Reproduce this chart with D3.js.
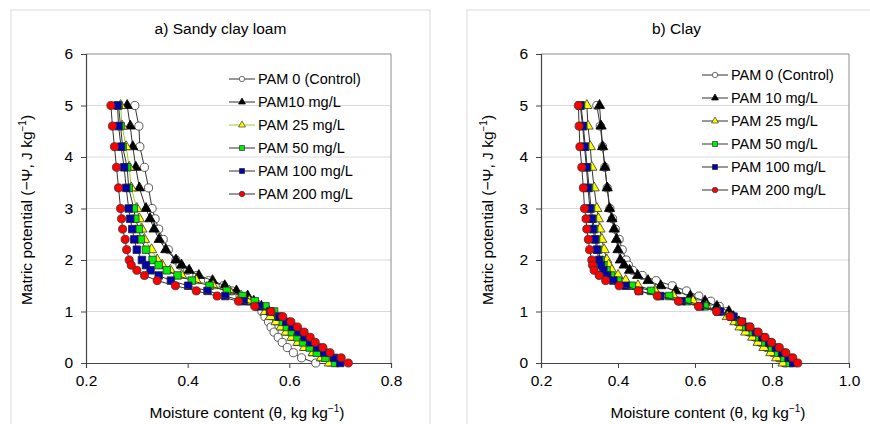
<!DOCTYPE html>
<html>
<head>
<meta charset="utf-8">
<script src="https://cdn.jsdelivr.net/npm/d3@7"></script>
<style>
  body { margin: 0; background: #fff; }
  text { font-family: "Liberation Sans", Arial, sans-serif; fill: #000; }
</style>
</head>
<body>
<svg id="chart" width="870" height="424"></svg>
<script>
// matric potential levels (-Psi, J/kg), same for every curve
const psi = [5, 4.6, 4.2, 3.8, 3.4, 3.0, 2.8, 2.6, 2.4, 2.2, 2.0, 1.9, 1.8, 1.7, 1.6, 1.5,
             1.4, 1.3, 1.2, 1.1, 1.0, 0.9, 0.8, 0.7, 0.6, 0.5, 0.4, 0.3, 0.2, 0.1, 0];

// a) sandy clay loam, moisture content (kg/kg)
const aPam0   = [0.296, 0.304, 0.306, 0.315, 0.323, 0.330, 0.336, 0.343, 0.352, 0.362, 0.377, 0.385, 0.400, 0.418, 0.441, 0.470,
                 0.487, 0.503, 0.520, 0.535, 0.546, 0.552, 0.559, 0.564, 0.570, 0.578, 0.586, 0.596, 0.608, 0.624, 0.652];
const aPam10  = [0.281, 0.287, 0.292, 0.298, 0.305, 0.318, 0.326, 0.334, 0.344, 0.357, 0.377, 0.388, 0.403, 0.422, 0.449, 0.473,
                 0.496, 0.518, 0.530, 0.545, 0.560, 0.568, 0.578, 0.588, 0.598, 0.609, 0.620, 0.633, 0.648, 0.665, 0.684];
const aPam25  = [0.268, 0.271, 0.279, 0.285, 0.289, 0.300, 0.305, 0.310, 0.315, 0.329, 0.340, 0.350, 0.366, 0.388, 0.417, 0.450,
                 0.482, 0.505, 0.521, 0.541, 0.553, 0.563, 0.574, 0.584, 0.594, 0.605, 0.617, 0.630, 0.647, 0.663, 0.679];
const aPam50  = [0.264, 0.268, 0.272, 0.281, 0.284, 0.294, 0.297, 0.304, 0.308, 0.318, 0.331, 0.343, 0.359, 0.380, 0.408, 0.443,
                 0.477, 0.508, 0.532, 0.553, 0.570, 0.578, 0.587, 0.595, 0.605, 0.616, 0.627, 0.640, 0.654, 0.671, 0.690];
const aPam100 = [0.262, 0.264, 0.269, 0.275, 0.279, 0.284, 0.287, 0.291, 0.295, 0.300, 0.310, 0.318, 0.327, 0.343, 0.367, 0.401,
                 0.439, 0.474, 0.510, 0.541, 0.562, 0.580, 0.594, 0.606, 0.618, 0.630, 0.641, 0.655, 0.669, 0.688, 0.700];
const aPam200 = [0.249, 0.252, 0.256, 0.260, 0.264, 0.268, 0.270, 0.272, 0.277, 0.280, 0.285, 0.289, 0.300, 0.315, 0.340, 0.376,
                 0.417, 0.458, 0.500, 0.532, 0.564, 0.587, 0.603, 0.616, 0.629, 0.641, 0.651, 0.666, 0.680, 0.702, 0.716];

// b) clay
const bPam0   = [0.345, 0.354, 0.360, 0.366, 0.372, 0.379, 0.386, 0.393, 0.403, 0.411, 0.421, 0.427, 0.438, 0.463, 0.499, 0.541,
                 0.578, 0.610, 0.641, 0.663, 0.683, 0.698, 0.711, 0.725, 0.740, 0.756, 0.770, 0.786, 0.803, 0.818, 0.833];
const bPam10  = [0.352, 0.356, 0.360, 0.366, 0.372, 0.378, 0.384, 0.390, 0.396, 0.400, 0.406, 0.416, 0.430, 0.451, 0.478, 0.511,
                 0.550, 0.588, 0.626, 0.657, 0.688, 0.700, 0.714, 0.728, 0.744, 0.760, 0.774, 0.790, 0.807, 0.822, 0.838];
const bPam25  = [0.319, 0.322, 0.328, 0.332, 0.338, 0.345, 0.349, 0.353, 0.358, 0.364, 0.371, 0.376, 0.384, 0.400, 0.420, 0.452,
                 0.496, 0.544, 0.595, 0.630, 0.665, 0.684, 0.704, 0.717, 0.732, 0.750, 0.764, 0.779, 0.797, 0.812, 0.829];
const bPam50  = [0.304, 0.310, 0.315, 0.320, 0.325, 0.330, 0.335, 0.338, 0.343, 0.348, 0.355, 0.362, 0.370, 0.382, 0.400, 0.436,
                 0.486, 0.533, 0.580, 0.625, 0.660, 0.695, 0.716, 0.733, 0.750, 0.767, 0.783, 0.800, 0.816, 0.832, 0.846];
const bPam100 = [0.302, 0.308, 0.313, 0.318, 0.322, 0.327, 0.332, 0.335, 0.340, 0.345, 0.351, 0.356, 0.362, 0.372, 0.388, 0.420,
                 0.455, 0.510, 0.565, 0.613, 0.665, 0.700, 0.722, 0.740, 0.758, 0.775, 0.792, 0.810, 0.826, 0.843, 0.855];
const bPam200 = [0.297, 0.299, 0.301, 0.306, 0.310, 0.313, 0.317, 0.319, 0.323, 0.326, 0.332, 0.334, 0.338, 0.351, 0.368, 0.403,
                 0.453, 0.502, 0.557, 0.609, 0.656, 0.691, 0.721, 0.743, 0.764, 0.782, 0.799, 0.819, 0.836, 0.854, 0.867];

const namesA = ["PAM 0 (Control)", "PAM10 mg/L", "PAM 25 mg/L", "PAM 50 mg/L", "PAM 100 mg/L", "PAM 200 mg/L"];
const namesB = ["PAM 0 (Control)", "PAM 10 mg/L", "PAM 25 mg/L", "PAM 50 mg/L", "PAM 100 mg/L", "PAM 200 mg/L"];
const yTicks = [0, 1, 2, 3, 4, 5, 6];
const xTicksA = [0.2, 0.4, 0.6, 0.8];
const xTicksB = [0.2, 0.4, 0.6, 0.8, 1.0];

// marker style per treatment
const styles = [
  {symbol: d3.symbolCircle,   size: 52, fill: "#ffffff", stroke: "#333"},
  {symbol: d3.symbolTriangle, size: 46, fill: "#000000", stroke: "#000"},
  {symbol: d3.symbolTriangle, size: 46, fill: "#ffff00", stroke: "#333"},
  {symbol: d3.symbolSquare,   size: 56, fill: "#00ee00", stroke: "#333"},
  {symbol: d3.symbolSquare,   size: 56, fill: "#0000b4", stroke: "#222"},
  {symbol: d3.symbolCircle,   size: 52, fill: "#ff0000", stroke: "#333"}
];

const svg = d3.select("#chart");

function drawPanel(p) {
  const g = svg.append("g");

  // chart frame
  g.append("rect")
    .attr("x", p.frameX).attr("y", 10)
    .attr("width", 419).attr("height", 440)
    .attr("fill", "none").attr("stroke", "#d9d9d9");

  const x = d3.scaleLinear().domain(p.xDomain).range([p.left, p.right]);
  const y = d3.scaleLinear().domain([0, 6]).range([363, 54]);

  // gridlines
  g.selectAll(null)
    .data([1, 2, 3, 4, 5])
    .join("line")
    .attr("x1", p.left).attr("x2", p.right)
    .attr("y1", d => y(d)).attr("y2", d => y(d))
    .attr("stroke", "#d9d9d9").attr("stroke-width", 1);

  // top/right box lines
  g.append("path")
    .attr("d", `M${p.left},${y(6)}H${p.right}V${y(0)}`)
    .attr("fill", "none").attr("stroke", "#8c8c8c");

  const xAxis = g.append("g")
    .attr("transform", `translate(0,${y(0)})`)
    .call(d3.axisBottom(x).tickValues(p.xTicks).tickSize(5).tickPadding(7).tickFormat(d3.format(".1f")));
  const yAxis = g.append("g")
    .attr("transform", `translate(${p.left},0)`)
    .call(d3.axisLeft(y).tickValues(yTicks).tickSize(5).tickPadding(8).tickFormat(d3.format("d")));
  [xAxis, yAxis].forEach(ax => {
    ax.select(".domain").attr("stroke", "#444").attr("stroke-width", 1.2);
    ax.selectAll(".tick line").attr("stroke", "#444");
    ax.selectAll("text").style("font-size", "15.5px").attr("fill", "#000");
  });

  const line = d3.line().x(d => x(d.theta)).y(d => y(d.psi));

  p.series.forEach((vals, i) => {
    const st = styles[i];
    const pts = psi.map((v, k) => ({psi: v, theta: vals[k]}));
    g.append("path")
      .datum(pts)
      .attr("d", line)
      .attr("fill", "none")
      .attr("stroke", p.lineColors[i])
      .attr("stroke-width", 1);
    g.selectAll(null)
      .data(pts)
      .join("path")
      .attr("transform", d => `translate(${x(d.theta)},${y(d.psi)})`)
      .attr("d", d3.symbol(st.symbol, st.size))
      .attr("fill", st.fill)
      .attr("stroke", st.stroke)
      .attr("stroke-width", 0.8);
  });

  // legend
  const lg = g.append("g");
  p.names.forEach((name, i) => {
    const st = styles[i];
    const ly = p.legendY + i * 23;
    lg.append("line")
      .attr("x1", p.legendX).attr("x2", p.legendX + 26)
      .attr("y1", ly).attr("y2", ly)
      .attr("stroke", p.lineColors[i]).attr("stroke-width", 1);
    lg.append("path")
      .attr("transform", `translate(${p.legendX + 13},${ly})`)
      .attr("d", d3.symbol(st.symbol, st.size * 0.45))
      .attr("fill", st.fill).attr("stroke", st.stroke).attr("stroke-width", 0.7);
    lg.append("text")
      .attr("x", p.legendX + 29).attr("y", ly)
      .attr("dy", "0.36em")
      .style("font-size", "14.5px")
      .text(name);
  });

  // titles
  g.append("text")
    .attr("x", p.frameX + 209.5).attr("y", 34)
    .attr("text-anchor", "middle")
    .style("font-size", "15.5px")
    .text(p.title);

  const xt = g.append("text")
    .attr("x", p.xTitleX).attr("y", 418)
    .attr("text-anchor", "middle")
    .style("font-size", "15.5px");
  xt.append("tspan").text("Moisture content (θ, kg kg");
  xt.append("tspan").attr("dy", -6).style("font-size", "10px").text("−1");
  xt.append("tspan").attr("dy", 6).text(")");

  const yt = g.append("text")
    .attr("transform", `translate(${p.yTitleX},210) rotate(-90)`)
    .attr("text-anchor", "middle")
    .style("font-size", "15.5px");
  yt.append("tspan").text("Matric potential (−Ψ, J kg");
  yt.append("tspan").attr("dy", -6).style("font-size", "10px").text("−1");
  yt.append("tspan").attr("dy", 6).text(")");
}

drawPanel({
  frameX: 11, left: 86, right: 391, xDomain: [0.2, 0.8], xTicks: xTicksA,
  series: [aPam0, aPam10, aPam25, aPam50, aPam100, aPam200],
  lineColors: ["#333", "#333", "#9acd32", "#333", "#333", "#333"],
  names: namesA, legendX: 229, legendY: 79,
  title: "a) Sandy clay loam", xTitleX: 247, yTitleX: 32
});

drawPanel({
  frameX: 467, left: 541, right: 849, xDomain: [0.2, 1.0], xTicks: xTicksB,
  series: [bPam0, bPam10, bPam25, bPam50, bPam100, bPam200],
  lineColors: ["#333", "#333", "#333", "#333", "#333", "#333"],
  names: namesB, legendX: 702, legendY: 75,
  title: "b) Clay", xTitleX: 708, yTitleX: 493
});
</script>
</body>
</html>
